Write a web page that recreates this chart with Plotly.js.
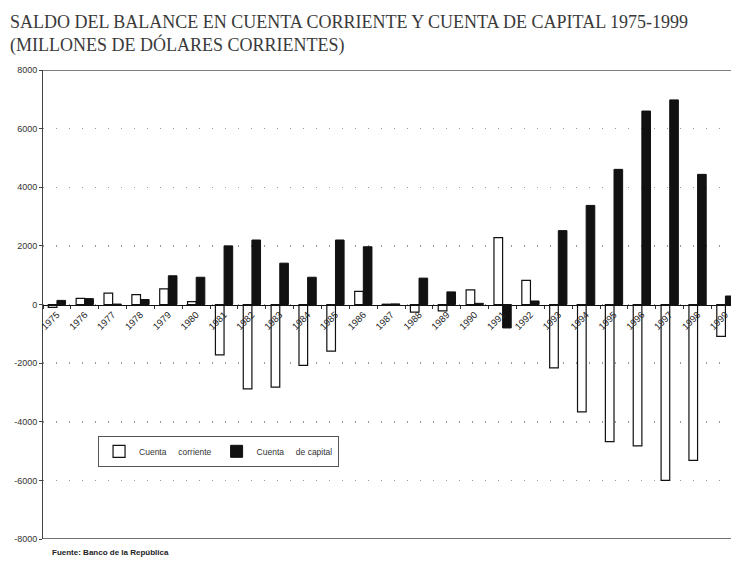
<!DOCTYPE html>
<html>
<head>
<meta charset="utf-8">
<script src="https://cdn.plot.ly/plotly-3.0.1.min.js"></script>
<style>html,body{margin:0;padding:0;background:#fff;}#chart{width:731px;height:562px;}</style>
</head>
<body>
<div id="chart"></div>
<script>
var years = ["1975","1976","1977","1978","1979","1980","1981","1982","1983","1984","1985","1986","1987","1988","1989","1990","1991","1992","1993","1994","1995","1996","1997","1998","1999"];
var cuentaCorriente = [-100, 210, 390, 340, 530, 100, -1720, -2880, -2820, -2080, -1590, 450, 10, -260, -220, 500, 2280, 820, -2160, -3660, -4680, -4820, -6000, -5320, -1090];
var cuentaCapital = [140, 200, 15, 170, 980, 930, 2000, 2200, 1410, 930, 2200, 1970, 20, 900, 430, 40, -800, 120, 2520, 3380, 4610, 6600, 6980, 4440, 290];
var yTickVals = [-8000, -6000, -4000, -2000, 0, 2000, 4000, 6000, 8000];
var yTickText = ["-8000", "-6000", "-4000", "-2000", "0", "2000", "4000", "6000", "8000"];
var legendNames = ["Cuenta\u00a0\u00a0\u00a0\u00a0\u00a0corriente", "Cuenta\u00a0\u00a0\u00a0\u00a0\u00a0de capital"];
var titleLines = ["SALDO DEL BALANCE EN CUENTA CORRIENTE Y CUENTA DE CAPITAL 1975-1999", "(MILLONES DE DÓLARES CORRIENTES)"];

var traces = [
  {type: "bar", x: years, y: cuentaCorriente, name: legendNames[0],
   marker: {color: "#ffffff", line: {color: "#111", width: 1.2}}},
  {type: "bar", x: years, y: cuentaCapital, name: legendNames[1],
   marker: {color: "#111111", line: {color: "#111", width: 1}}}
];

var layout = {
  width: 731, height: 562,
  margin: {l: 43, r: 0, t: 70, b: 23},
  paper_bgcolor: "#fff", plot_bgcolor: "#fff",
  barmode: "group", bargap: 0.38, bargroupgap: 0,
  xaxis: {
    type: "category", range: [-0.5, 24.2],
    anchor: "free", position: 0.5,
    showline: true, linecolor: "#111", linewidth: 1,
    showgrid: false, zeroline: false,
    tickangle: -45, tickson: "boundaries", ticks: "outside", ticklen: 3, tickcolor: "#333",
    tickfont: {family: "Arial, Liberation Sans, sans-serif", size: 9.5, color: "#222"}
  },
  yaxis: {
    range: [-8000, 8000], tickvals: yTickVals, ticktext: yTickText,
    showline: true, linecolor: "#444", linewidth: 1,
    ticks: "outside", ticklen: 3, tickcolor: "#444",
    showgrid: true, gridcolor: "#999", griddash: "1px,12px", gridwidth: 1.5,
    zeroline: false,
    tickfont: {family: "Arial, Liberation Sans, sans-serif", size: 9, color: "#333"}
  },
  shapes: [
    {type: "line", xref: "paper", yref: "y", x0: 0, x1: 1, y0: 8000, y1: 8000, line: {color: "#555", width: 1.5}},
    {type: "line", xref: "paper", yref: "y", x0: 0, x1: 1, y0: -8000, y1: -8000, line: {color: "#444", width: 1.5}}
  ],
  showlegend: true,
  legend: {
    orientation: "h", x: 0.08, xanchor: "left", y: 0.22, yanchor: "top",
    bgcolor: "#fff", bordercolor: "#555", borderwidth: 1,
    font: {family: "Arial, Liberation Sans, sans-serif", size: 8.5, color: "#333"},
    itemwidth: 30, tracegroupgap: 0
  },
  annotations: [
    {text: titleLines[0] + "<br>" + titleLines[1], xref: "paper", yref: "paper",
     x: -0.0509, y: 1.128, xanchor: "left", yanchor: "top", align: "left", showarrow: false,
     font: {family: "Liberation Serif, serif", size: 18, color: "#3a3a3a"}},
    {text: "<b>Fuente: Banco de la República</b>", xref: "paper", yref: "paper",
     x: 0.01, y: -0.028, xanchor: "left", yanchor: "middle", showarrow: false,
     font: {family: "Arial, Liberation Sans, sans-serif", size: 8, color: "#222"}}
  ]
};

Plotly.newPlot("chart", traces, layout, {displayModeBar: false, staticPlot: true});
</script>
</body>
</html>
